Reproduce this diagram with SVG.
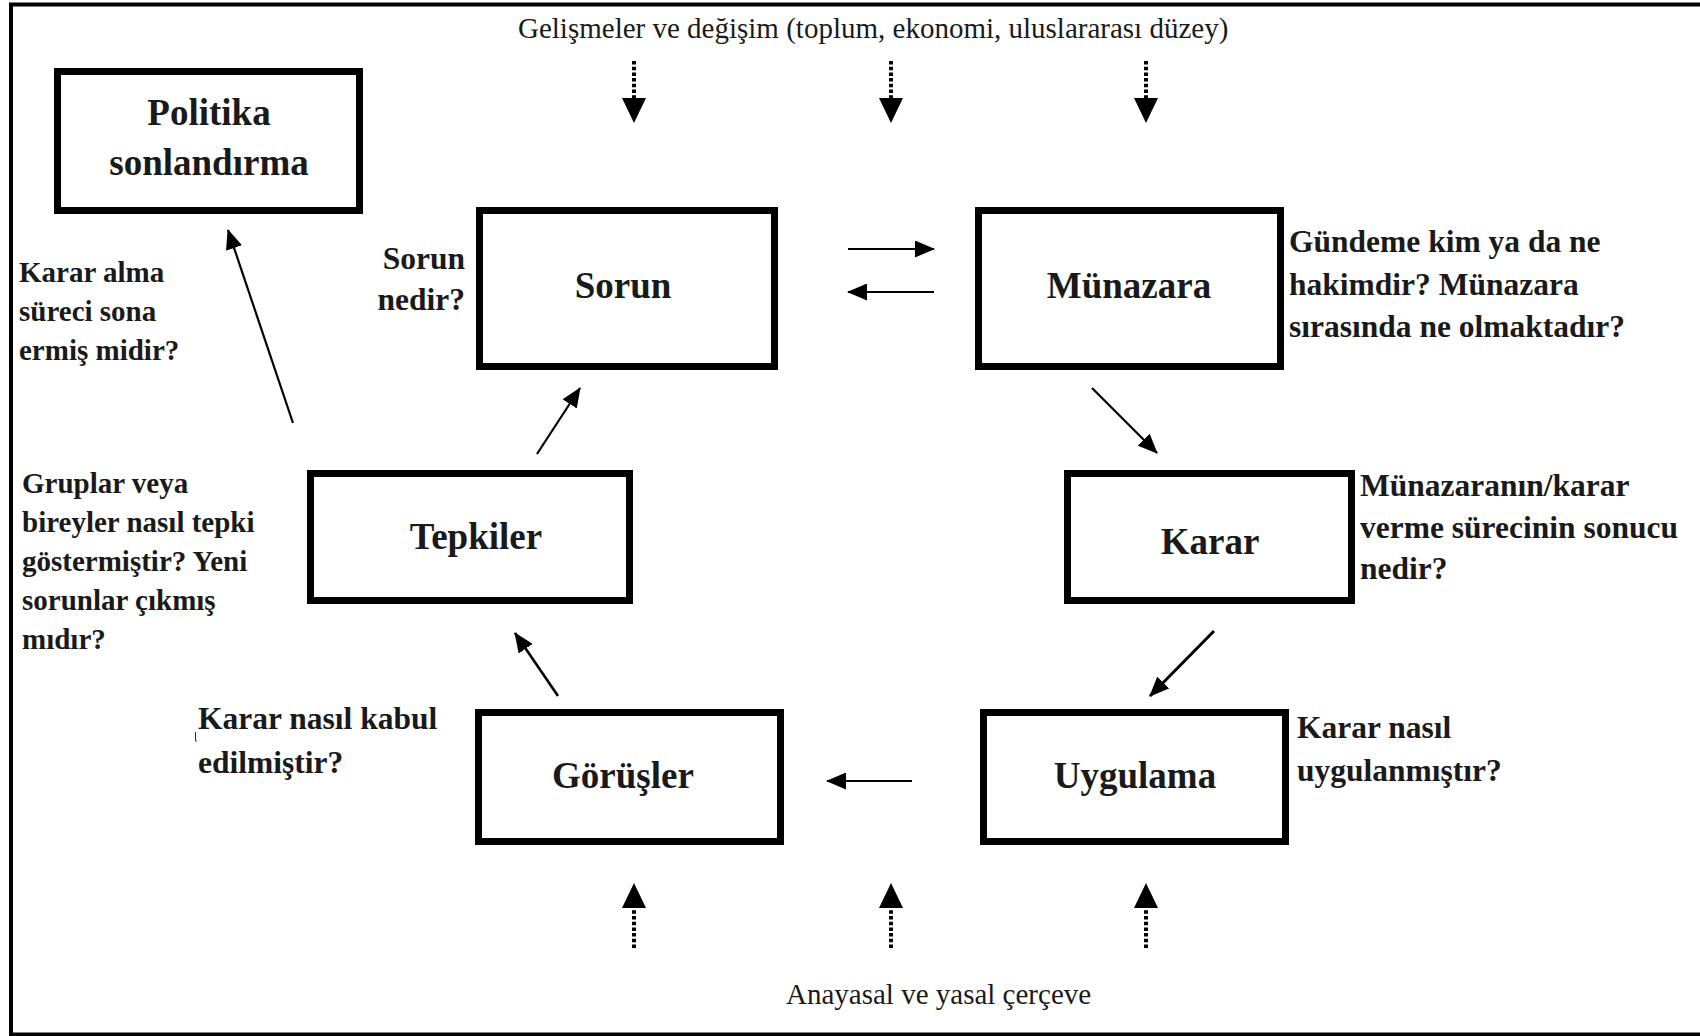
<svg xmlns="http://www.w3.org/2000/svg" width="1700" height="1036" viewBox="0 0 1700 1036">
<style>
  text { font-family: "Liberation Serif", "Times New Roman", serif; fill: #1a1a1a; }
  .node rect { fill: #fff; stroke: #000; stroke-width: 7; }
  .lbl { font-size: 37px; font-weight: bold; text-anchor: middle; }
  .q { font-size: 31.5px; font-weight: bold; }
  .ql { font-size: 29px; font-weight: bold; }
  .ctx { font-size: 29px; }
  .conn line { stroke: #000; stroke-width: 2.2; fill: none; }
  .conn .dash { stroke-width: 4; stroke-dasharray: 3.5 2.2; }
</style>
<defs>
  <marker id="ah" markerUnits="userSpaceOnUse" markerWidth="20" markerHeight="17" refX="19" refY="8.5" orient="auto">
    <path d="M0,0 L20,8.5 L0,17 z" fill="#000"/>
  </marker>
  <marker id="ahBig" markerUnits="userSpaceOnUse" markerWidth="25" markerHeight="24" refX="25" refY="12" orient="auto">
    <path d="M0,0 L25,12 L0,24 z" fill="#000"/>
  </marker>
</defs>
<rect width="1700" height="1036" fill="#fff"/>
<path d="M1700,4.5 H11 V1034.5 H1700" fill="none" stroke="#000" stroke-width="4"/>

<text class="ctx" x="518" y="38">Gelişmeler ve değişim (toplum, ekonomi, uluslararası düzey)</text>
<text class="ctx" x="786" y="1004">Anayasal ve yasal çerçeve</text>

<g id="politika" class="node">
  <rect x="57.5" y="71.5" width="302" height="139"/>
  <text class="lbl" x="209" y="125">Politika</text>
  <text class="lbl" x="209" y="175">sonlandırma</text>
</g>
<g id="sorun" class="node">
  <rect x="479.5" y="210.5" width="295" height="156"/>
  <text class="lbl" x="623" y="298">Sorun</text>
</g>
<g id="munazara" class="node">
  <rect x="978.5" y="210.5" width="302" height="156"/>
  <text class="lbl" x="1129" y="298">Münazara</text>
</g>
<g id="tepkiler" class="node">
  <rect x="310.5" y="473.5" width="319" height="127"/>
  <text class="lbl" x="476" y="549">Tepkiler</text>
</g>
<g id="karar" class="node">
  <rect x="1067.5" y="473.5" width="284" height="127"/>
  <text class="lbl" x="1210" y="554">Karar</text>
</g>
<g id="gorusler" class="node">
  <rect x="478.5" y="712.5" width="302" height="129"/>
  <text class="lbl" x="623" y="788">Görüşler</text>
</g>
<g id="uygulama" class="node">
  <rect x="983.5" y="712.5" width="302" height="129"/>
  <text class="lbl" x="1135" y="788">Uygulama</text>
</g>

<g id="questions">
  <text class="q" x="465" y="269" text-anchor="end">Sorun</text>
  <text class="q" x="465" y="310" text-anchor="end">nedir?</text>
  <text class="ql" x="19" y="282">Karar alma</text>
  <text class="ql" x="19" y="321">süreci sona</text>
  <text class="ql" x="19" y="360">ermiş midir?</text>
  <text class="ql" x="22" y="493">Gruplar veya</text>
  <text class="ql" x="22" y="532">bireyler nasıl tepki</text>
  <text class="ql" x="22" y="571">göstermiştir? Yeni</text>
  <text class="ql" x="22" y="610">sorunlar çıkmış</text>
  <text class="ql" x="22" y="649">mıdır?</text>
  <text class="q" x="198" y="729">Karar nasıl kabul</text>
  <text class="q" x="198" y="773">edilmiştir?</text>
  <path d="M195.5,732 V741 H197" fill="none" stroke="#333" stroke-width="1"/>
  <text class="q" x="1289" y="252">Gündeme kim ya da ne</text>
  <text class="q" x="1289" y="295">hakimdir? Münazara</text>
  <text class="q" x="1289" y="337">sırasında ne olmaktadır?</text>
  <text class="q" x="1360" y="496">Münazaranın/karar</text>
  <text class="q" x="1360" y="538">verme sürecinin sonucu</text>
  <text class="q" x="1360" y="579">nedir?</text>
  <text class="q" x="1297" y="738">Karar nasıl</text>
  <text class="q" x="1297" y="781">uygulanmıştır?</text>
</g>

<g id="connectors" class="conn">
  <line x1="293" y1="423" x2="228" y2="230" marker-end="url(#ah)"/>
  <line x1="537" y1="454" x2="580" y2="388" marker-end="url(#ah)"/>
  <line x1="848" y1="249" x2="934" y2="249" marker-end="url(#ah)"/>
  <line x1="934" y1="292" x2="848" y2="292" marker-end="url(#ah)"/>
  <line x1="1092" y1="388" x2="1157" y2="453" marker-end="url(#ah)"/>
  <line x1="1214" y1="631" x2="1150" y2="696" marker-end="url(#ah)" style="stroke-width:3"/>
  <line x1="912" y1="781" x2="827" y2="781" marker-end="url(#ah)"/>
  <line x1="558" y1="696" x2="515" y2="633" marker-end="url(#ah)" style="stroke-width:2.6"/>

  <line class="dash" x1="634" y1="61" x2="634" y2="99"/>
  <line x1="634" y1="97" x2="634" y2="123" style="stroke-width:0" marker-end="url(#ahBig)"/>
  <line class="dash" x1="891" y1="61" x2="891" y2="99"/>
  <line x1="891" y1="97" x2="891" y2="123" style="stroke-width:0" marker-end="url(#ahBig)"/>
  <line class="dash" x1="1146" y1="61" x2="1146" y2="99"/>
  <line x1="1146" y1="97" x2="1146" y2="123" style="stroke-width:0" marker-end="url(#ahBig)"/>

  <line class="dash" x1="634" y1="948" x2="634" y2="905"/>
  <line x1="634" y1="908" x2="634" y2="883" style="stroke-width:0" marker-end="url(#ahBig)"/>
  <line class="dash" x1="891" y1="948" x2="891" y2="905"/>
  <line x1="891" y1="908" x2="891" y2="883" style="stroke-width:0" marker-end="url(#ahBig)"/>
  <line class="dash" x1="1146" y1="948" x2="1146" y2="905"/>
  <line x1="1146" y1="908" x2="1146" y2="883" style="stroke-width:0" marker-end="url(#ahBig)"/>
</g>
</svg>
